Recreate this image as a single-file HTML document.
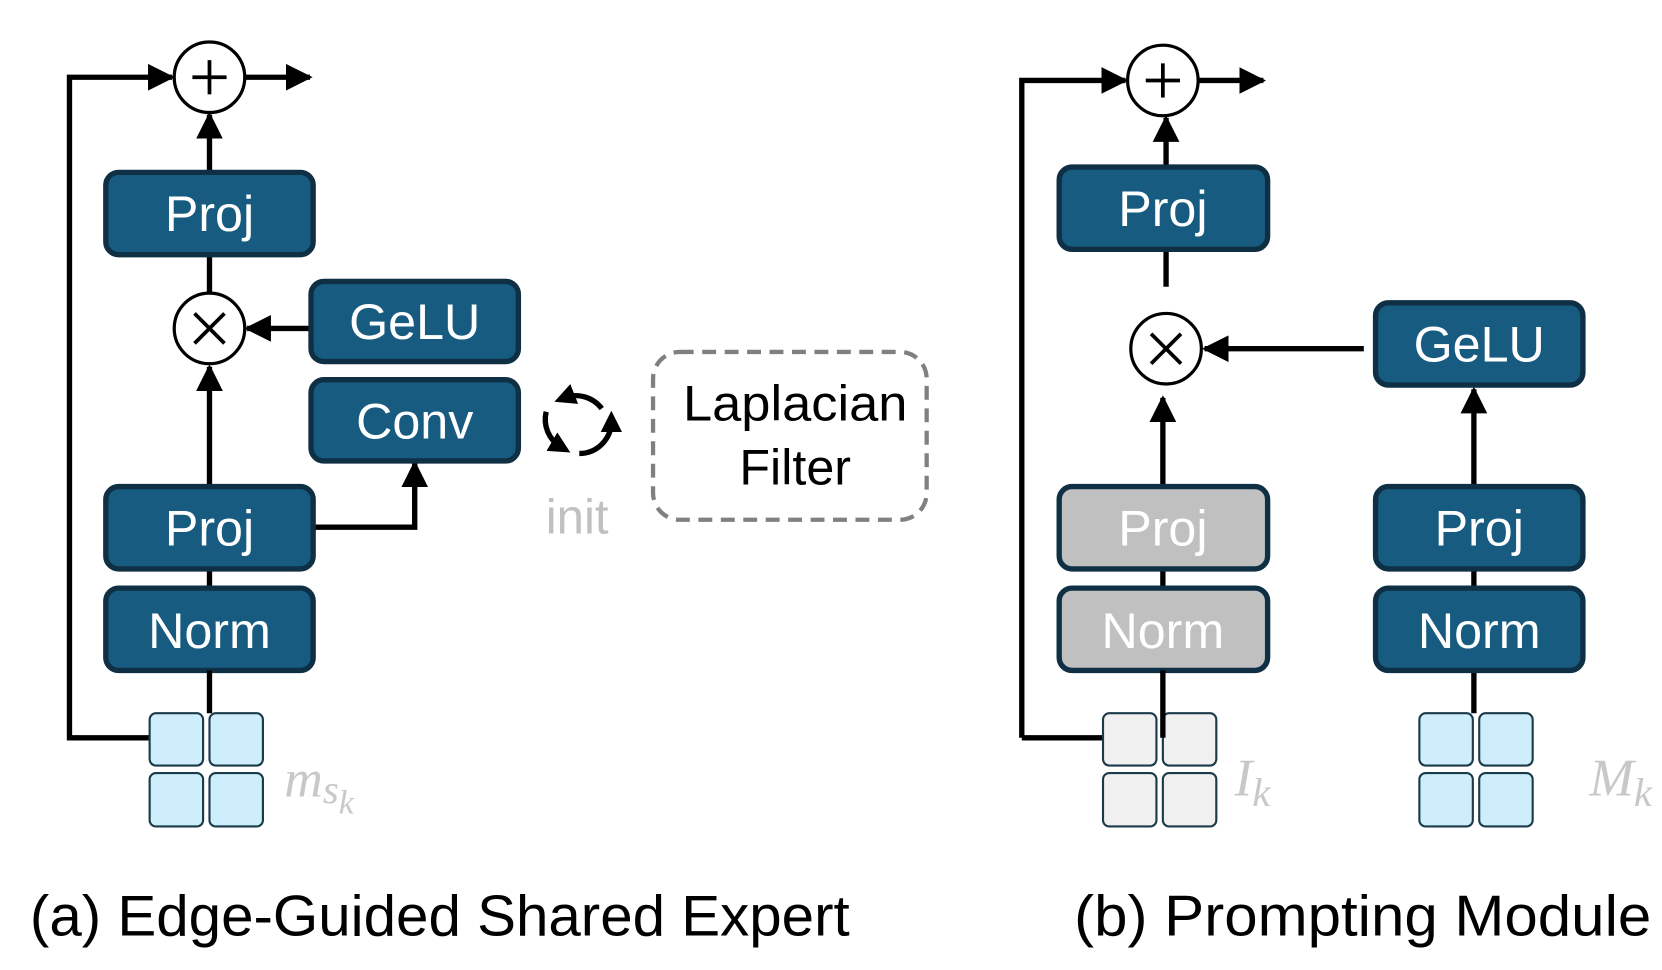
<!DOCTYPE html>
<html><head><meta charset="utf-8"><style>
html,body{margin:0;padding:0;background:#fff;}
svg{display:block;}
text{font-family:"Liberation Sans",sans-serif;}
</style></head><body>
<svg width="1662" height="970" viewBox="0 0 1555 907" xmlns="http://www.w3.org/2000/svg">
<defs>
<marker id="ah" viewBox="0 0 10 10" refX="9" refY="5" markerWidth="5" markerHeight="5" orient="auto" markerUnits="strokeWidth"><path d="M0,0 L10,5 L0,10 z" fill="#000"/></marker>
<marker id="sh" viewBox="0 0 10 10" refX="5" refY="5" markerWidth="4" markerHeight="4" orient="auto" markerUnits="strokeWidth"><path d="M0,0 L10,5 L0,10 z" fill="#000"/></marker>
</defs>
<g fill="none" stroke="#000" stroke-width="5">
<polyline points="140,690 65,690 65,72 161,72" marker-end="url(#ah)"/>
<line x1="229" y1="72" x2="290" y2="72" marker-end="url(#ah)"/>
<line x1="196" y1="161" x2="196" y2="107" marker-end="url(#ah)"/>
<line x1="196" y1="238" x2="196" y2="274"/>
<line x1="291" y1="307" x2="231" y2="307" marker-end="url(#ah)"/>
<line x1="196" y1="455" x2="196" y2="343" marker-end="url(#ah)"/>
<polyline points="293,493 388,493 388,433" marker-end="url(#ah)"/>
<line x1="196" y1="532" x2="196" y2="550"/>
<line x1="1032" y1="690" x2="956" y2="690"/>
<polyline points="956,690 956,75 1053,75" marker-end="url(#ah)"/>
<line x1="1121" y1="75" x2="1182" y2="75" marker-end="url(#ah)"/>
<line x1="1091" y1="156" x2="1091" y2="110" marker-end="url(#ah)"/>
<line x1="1091" y1="233" x2="1091" y2="268"/>
<line x1="1276" y1="326" x2="1127" y2="326" marker-end="url(#ah)"/>
<line x1="1088" y1="455" x2="1088" y2="372" marker-end="url(#ah)"/>
<line x1="1379" y1="455" x2="1379" y2="364" marker-end="url(#ah)"/>
<line x1="1088" y1="532" x2="1088" y2="550"/>
<line x1="1379" y1="532" x2="1379" y2="550"/>
<line x1="1379" y1="627" x2="1379" y2="667"/>
</g>
<g fill="#fff" stroke="#000" stroke-width="3">
<circle cx="196" cy="72" r="33"/><circle cx="196" cy="307" r="33"/>
<circle cx="1088" cy="75" r="33"/><circle cx="1091" cy="326" r="33"/>
</g>
<g stroke="#000" stroke-width="3.5">
<line x1="180" y1="72" x2="212" y2="72"/><line x1="196" y1="56" x2="196" y2="88"/>
<line x1="1072" y1="75" x2="1104" y2="75"/><line x1="1088" y1="59" x2="1088" y2="91"/>
<line x1="182" y1="293" x2="210" y2="321"/><line x1="210" y1="293" x2="182" y2="321"/>
<line x1="1077" y1="312" x2="1105" y2="340"/><line x1="1105" y1="312" x2="1077" y2="340"/>
</g>
<g stroke="#0e2f44" stroke-width="5">
<rect x="99" y="161" width="194" height="77" rx="12" fill="#175c80"/>
<rect x="291" y="263" width="194" height="75" rx="12" fill="#175c80"/>
<rect x="291" y="355" width="194" height="76" rx="12" fill="#175c80"/>
<rect x="99" y="455" width="194" height="77" rx="12" fill="#175c80"/>
<rect x="99" y="550" width="194" height="77" rx="12" fill="#175c80"/>
<rect x="991" y="156" width="195" height="77" rx="12" fill="#175c80"/>
<rect x="1287" y="283" width="194" height="77" rx="12" fill="#175c80"/>
<rect x="991" y="455" width="195" height="77" rx="12" fill="#c0c0c0"/>
<rect x="991" y="550" width="195" height="77" rx="12" fill="#c0c0c0"/>
<rect x="1287" y="455" width="194" height="77" rx="12" fill="#175c80"/>
<rect x="1287" y="550" width="194" height="77" rx="12" fill="#175c80"/>
</g>
<g fill="#fff" font-size="47" text-anchor="middle">
<text x="196" y="216">Proj</text>
<text x="388" y="317">GeLU</text>
<text x="388" y="410">Conv</text>
<text x="196" y="510">Proj</text>
<text x="196" y="606">Norm</text>
<text x="1088" y="211">Proj</text>
<text x="1384" y="338">GeLU</text>
<text x="1088" y="510">Proj</text>
<text x="1088" y="606">Norm</text>
<text x="1384" y="510">Proj</text>
<text x="1384" y="606">Norm</text>
</g>
<g stroke="#1b3a4a" stroke-width="2" fill="#cdeefa">
<rect x="140" y="667" width="50" height="49" rx="6"/><rect x="196" y="667" width="50" height="49" rx="6"/>
<rect x="140" y="723" width="50" height="50" rx="6"/><rect x="196" y="723" width="50" height="50" rx="6"/>
<rect x="1328" y="667" width="50" height="49" rx="6"/><rect x="1384" y="667" width="50" height="49" rx="6"/>
<rect x="1328" y="723" width="50" height="50" rx="6"/><rect x="1384" y="723" width="50" height="50" rx="6"/>
</g>
<g stroke="#1b3a4a" stroke-width="2" fill="#f0f0f0">
<rect x="1032" y="667" width="50" height="49" rx="6"/><rect x="1088" y="667" width="50" height="49" rx="6"/>
<rect x="1032" y="723" width="50" height="50" rx="6"/><rect x="1088" y="723" width="50" height="50" rx="6"/>
</g>
<line x1="196" y1="627" x2="196" y2="667" stroke="#000" stroke-width="5"/>
<line x1="1088" y1="627" x2="1088" y2="690" stroke="#000" stroke-width="5"/>
<g fill="#c8c8c8" font-style="italic">
<text x="266" y="745" font-size="50" style="font-family:'Liberation Serif',serif">m<tspan font-size="38" dy="6">s</tspan><tspan font-size="32" dy="10">k</tspan></text>
<text x="1155" y="744" font-size="50" style="font-family:'Liberation Serif',serif">I<tspan font-size="38" dy="10">k</tspan></text>
<text x="1487" y="744" font-size="50" style="font-family:'Liberation Serif',serif">M<tspan font-size="38" dy="10">k</tspan></text>
</g>
<text x="540" y="499" font-size="46" fill="#c0c0c0" text-anchor="middle">init</text>
<g fill="none" stroke="#000" stroke-width="5">
<path d="M563,382 A30,30 0 0 0 528,372" marker-end="url(#sh)"/>
<path d="M542,424 A30,30 0 0 0 572,394" marker-end="url(#sh)"/>
<path d="M511,385 A30,30 0 0 0 525,418" marker-end="url(#sh)"/>
</g>
<rect x="611" y="329" width="256" height="157" rx="25" fill="none" stroke="#808080" stroke-width="4" stroke-dasharray="13,8"/>
<g font-size="47" fill="#000" text-anchor="middle">
<text x="744" y="393" textLength="210" lengthAdjust="spacingAndGlyphs">Laplacian</text>
<text x="744" y="453">Filter</text>
</g>
<g font-size="54" fill="#000">
<text x="28" y="875" textLength="767" lengthAdjust="spacingAndGlyphs">(a) Edge-Guided Shared Expert</text>
<text x="1005" y="875" textLength="540" lengthAdjust="spacingAndGlyphs">(b) Prompting Module</text>
</g>
</svg>
</body></html>
